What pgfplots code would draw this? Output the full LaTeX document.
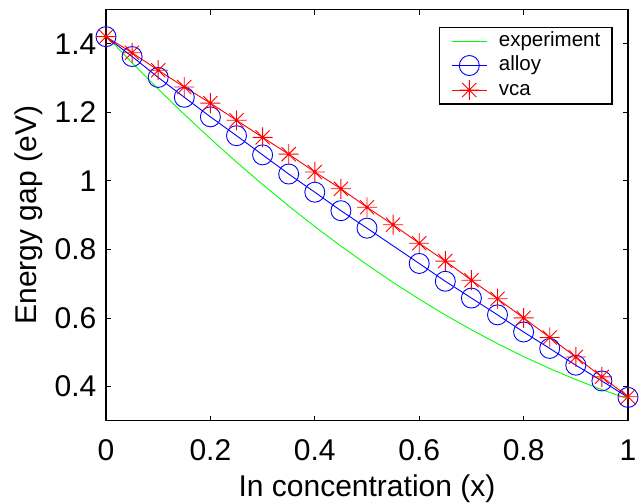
\documentclass[border=0pt]{standalone}
\usepackage{fontspec}
\setmainfont{Liberation Sans}
\usepackage{pgfplots}
\pgfplotsset{compat=1.18}
\pgfdeclareplotmark{mstar}{%
  \pgfpathmoveto{\pgfqpoint{-\pgfplotmarksize}{0pt}}\pgfpathlineto{\pgfqpoint{\pgfplotmarksize}{0pt}}%
  \pgfpathmoveto{\pgfqpoint{0pt}{-\pgfplotmarksize}}\pgfpathlineto{\pgfqpoint{0pt}{\pgfplotmarksize}}%
  \pgfpathmoveto{\pgfqpoint{-0.707\pgfplotmarksize}{-0.707\pgfplotmarksize}}\pgfpathlineto{\pgfqpoint{0.707\pgfplotmarksize}{0.707\pgfplotmarksize}}%
  \pgfpathmoveto{\pgfqpoint{-0.707\pgfplotmarksize}{0.707\pgfplotmarksize}}\pgfpathlineto{\pgfqpoint{0.707\pgfplotmarksize}{-0.707\pgfplotmarksize}}%
  \pgfusepathqstroke}
\begin{document}
\begin{tikzpicture}
\useasboundingbox (-106bp,-82.3bp) rectangle (534bp,420.7bp);
\begin{axis}[
  at={(0,0)}, anchor=south west, scale only axis,
  width=522bp, height=411.1bp,
  xmin=0, xmax=1, ymin=0.3, ymax=1.5,
  xtick={0,0.2,0.4,0.6,0.8,1},
  ytick={0.4,0.6,0.8,1,1.2,1.4},
  tick align=inside, major tick length=5bp,
  tick style={line width=0.8bp, black},
  axis line style={line width=1.2bp},
  /pgf/number format/assume math mode=true,
  ticklabel style={font=\fontsize{30bp}{36bp}\selectfont, inner sep=0pt},
  xticklabel style={anchor=base, yshift=-40bp},
  yticklabel style={anchor=east, xshift=-9.5bp},
  xlabel={In concentration (x)},
  ylabel={Energy gap (eV)},
  every axis x label/.style={at={(axis description cs:0.5,0)}, anchor=base, yshift=-76bp,
    font=\fontsize{30bp}{36bp}\selectfont, inner sep=0pt},
  every axis y label/.style={at={(axis description cs:0,0.5)}, rotate=90, anchor=base, yshift=69.3bp,
    font=\fontsize{30bp}{36bp}\selectfont, inner sep=0pt},
  legend style={at={(0.638,0.958)}, anchor=north west, draw=black, line width=1.3bp,
    inner xsep=11.7bp, inner ysep=4bp, row sep=4.5bp,
    font=\fontsize{20.5bp}{24bp}\selectfont,
    nodes={inner sep=0pt, text height=15bp, text depth=4.5bp},
    /tikz/every odd column/.append style={column sep=11.6bp}},
  legend cell align=left,
  legend image code/.code={\draw[mark repeat=2,mark phase=2,#1] plot coordinates {(0bp,0bp) (17.5bp,0bp) (35bp,0bp)};},
]
\addplot[green, line width=0.9bp] coordinates {
(0,1.424)(0.05,1.3446)(0.1,1.2681)(0.15,1.1942)(0.2,1.1232)(0.25,1.0549)(0.3,0.9895)
(0.35,0.9267)(0.4,0.8668)(0.45,0.8096)(0.5,0.7553)(0.55,0.7036)(0.6,0.6548)(0.65,0.6087)
(0.7,0.5655)(0.75,0.5249)(0.8,0.4872)(0.85,0.4522)(0.9,0.4201)(0.95,0.3906)(1,0.364)};
\addlegendentry{experiment}
\addplot[blue, line width=0.9bp, mark=o, mark size=10bp, mark options={line width=0.9bp}] coordinates {
(0,1.421)(0.05,1.363)(0.1,1.302)(0.15,1.244)(0.2,1.187)(0.25,1.132)(0.3,1.076)(0.35,1.020)
(0.4,0.967)(0.45,0.913)(0.5,0.862)(0.6,0.759)(0.65,0.707)(0.7,0.658)(0.75,0.609)(0.8,0.559)
(0.85,0.511)(0.9,0.462)(0.95,0.416)(1,0.368)};
\addlegendentry{alloy}
\addplot[red, line width=0.9bp, mark=mstar, mark size=10bp, mark options={line width=0.9bp}] coordinates {
(0,1.421)(0.05,1.374)(0.1,1.323)(0.15,1.274)(0.2,1.227)(0.25,1.177)(0.3,1.127)(0.35,1.078)
(0.4,1.026)(0.45,0.977)(0.5,0.923)(0.55,0.872)(0.6,0.818)(0.65,0.766)(0.7,0.710)(0.75,0.656)
(0.8,0.600)(0.85,0.543)(0.9,0.486)(0.95,0.428)(1,0.370)};
\addlegendentry{vca}
\end{axis}
\end{tikzpicture}
\end{document}
